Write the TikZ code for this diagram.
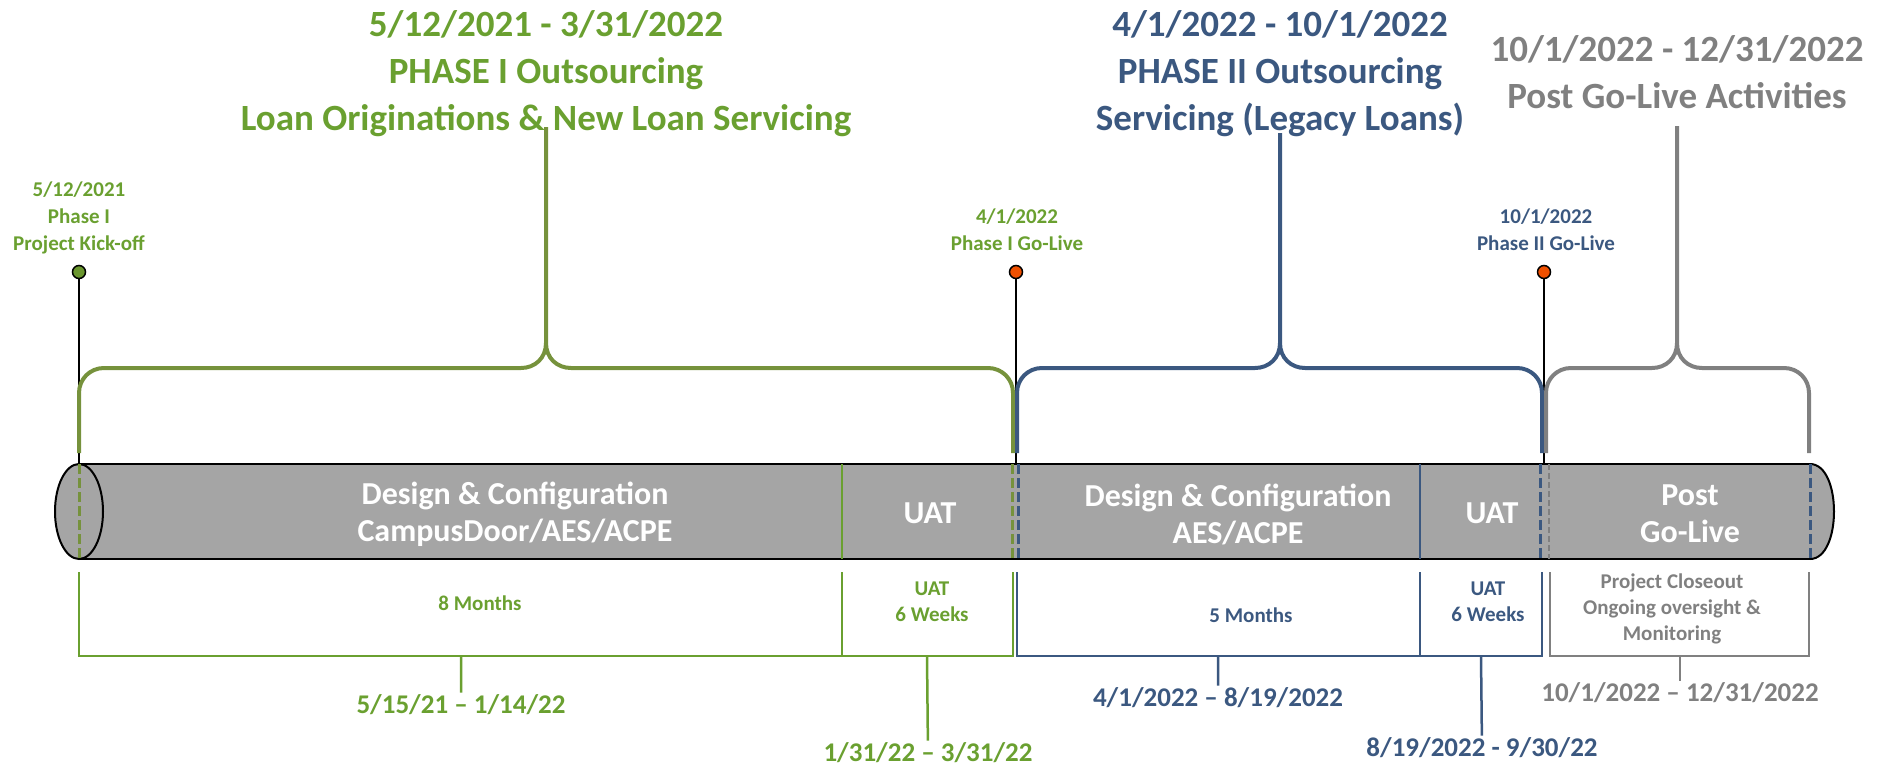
\documentclass[tikz,border=0pt]{standalone}
\usepackage{fontspec}
\setmainfont{Carlito}
\definecolor{pone}{RGB}{106,160,48}
\definecolor{ponel}{RGB}{118,146,60}
\definecolor{ptwo}{RGB}{59,88,128}
\definecolor{post}{RGB}{128,128,128}
\definecolor{tube}{RGB}{165,165,165}
\definecolor{golive}{RGB}{240,80,0}
\definecolor{kick}{RGB}{106,150,46}

\begin{document}
\begin{tikzpicture}[x=1pt,y=-1pt,
        ttl/.style = {font=\fontsize{37}{47}\selectfont\bfseries, align=center},
        mile/.style = {font=\fontsize{21}{27}\selectfont\bfseries, align=center},
        seg/.style = {text=white, font=\fontsize{32}{37}\selectfont\bfseries, align=center},
        dur/.style = {font=\fontsize{21}{26}\selectfont\bfseries, align=center},
        span/.style = {font=\fontsize{27}{32}\selectfont\bfseries, inner sep=2pt},
        dot/.style = {circle, draw=black, line width=1.5pt, minimum size=13pt, inner sep=0pt},
        brace/.style = {line width=4pt},
        box/.style = {line width=2.5pt}]
    \useasboundingbox (0,0) rectangle (1888,766);

    % titles
    \node[ttl, text=pone] (t1) at (546,74) {5/12/2021 - 3/31/2022\\PHASE I Outsourcing\\Loan Originations \& New Loan Servicing};
    \node[ttl, text=ptwo] (t2) at (1280,74) {4/1/2022 - 10/1/2022\\PHASE II Outsourcing\\Servicing (Legacy Loans)};
    \node[ttl, text=post] (t3) at (1677,72) {10/1/2022 - 12/31/2022\\Post Go-Live Activities};

    % tube
    \fill[tube] (79,464) rectangle (1810,559);
    \draw[line width=2.5pt] (79,464) -- (1810,464) (79,559) -- (1810,559);
    \draw[line width=2pt, fill=tube] (79,511.5) ellipse [x radius=24, y radius=47.5];
    \draw[line width=2pt, fill=tube] (1810,464) .. controls (1842,464) and (1842,559) .. (1810,559);
    \draw[ponel, line width=3pt, dash pattern=on 10pt off 4pt] (79,464) -- (79,559) (1012,464) -- (1012,559);
    \draw[ptwo, line width=3pt, dash pattern=on 10pt off 4pt] (1018,464) -- (1018,559) (1540,464) -- (1540,559) (1810,464) -- (1810,559);
    \draw[post, line width=2pt, dash pattern=on 6pt off 3pt] (1549,464) -- (1549,559);
    \draw[pone, line width=2pt] (842,464) -- (842,559);
    \draw[ptwo, line width=2pt] (1420,464) -- (1420,559);

    \node[seg] (s1) at (515,514) {Design \& Configuration\\CampusDoor/AES/ACPE};
    \node[seg] (s2) at (930,513) {UAT};
    \node[seg] (s3) at (1238,514) {Design \& Configuration\\AES/ACPE};
    \node[seg] (s4) at (1492,513) {UAT};
    \node[seg] (s5) at (1690,514) {Post\\Go-Live};

    % milestones
    \node[mile, text=pone] (m1) at (79,218) {5/12/2021\\Phase I\\Project Kick-off};
    \node[mile, text=pone] (m2) at (1017,230) {4/1/2022\\Phase I Go-Live};
    \node[mile, text=ptwo] (m3) at (1546,230) {10/1/2022\\Phase II Go-Live};
    \node[dot, fill=kick] (d1) at (79,272) {};
    \node[dot, fill=golive] (d2) at (1016,272) {};
    \node[dot, fill=golive] (d3) at (1544,272) {};
    \coordinate (a1) at (79,464);
    \coordinate (a2) at (1016,464);
    \coordinate (a3) at (1544,464);
    \draw[line width=1.5pt] (d1) -- (a1) (d2) -- (a2) (d3) -- (a3);

    % braces
    \foreach \l/\m/\r/\t/\c in {79/546/1013/127/ponel, 1017/1280/1542/133/ptwo, 1546/1677/1809/126/post}
        \draw[brace, draw=\c] (\l,453) -- (\l,393) .. controls (\l,379) and (\l+11,368) .. (\l+25,368)
            -- (\m-25,368) .. controls (\m-11,368) and (\m,358) .. (\m,343)
            .. controls (\m,358) and (\m+11,368) .. (\m+25,368) -- (\r-25,368)
            .. controls (\r-11,368) and (\r,379) .. (\r,393) -- (\r,453)
            (\m,343) -- (\m,\t);

    % durations
    \draw[box, pone] (79,572) -- (79,656) -- (1013,656) -- (1013,572) (842,572) -- (842,656);
    \draw[box, ptwo] (1017,572) -- (1017,656) -- (1542,656) -- (1542,572) (1420,572) -- (1420,656);
    \draw[box, post] (1550,572) -- (1550,656) -- (1809,656) -- (1809,572);
    \node[dur, text=pone] (g8m) at (480,603) {8 Months};
    \node[dur, text=pone] (guat) at (932,602) {UAT\\6 Weeks};
    \node[dur, text=ptwo] (b5m) at (1251,615) {5 Months};
    \node[dur, text=ptwo] (buat) at (1488,602) {UAT\\6 Weeks};
    \node[dur, text=post] (pcl) at (1672,609) {Project Closeout\\Ongoing oversight \&\\Monitoring};

    % date spans
    \node[span, text=pone] (g1d) at (461,705) {5/15/21 – 1/14/22};
    \node[span, text=pone] (g2d) at (928,753) {1/31/22 – 3/31/22};
    \node[span, text=ptwo] (b1d) at (1218,698) {4/1/2022 – 8/19/2022};
    \node[span, text=ptwo] (b2d) at (1482,748) {8/19/2022 - 9/30/22};
    \node[span, text=post] (p1d) at (1680,693) {10/1/2022 – 12/31/2022};
    \coordinate (g1) at (461,656);
    \coordinate (g2) at (927,656);
    \coordinate (b1) at (1218,656);
    \coordinate (b2) at (1481,656);
    \coordinate (p1) at (1680,656);
    \draw[box, pone] (g1) -- (g1d) (g2) -- (g2d);
    \draw[box, ptwo] (b1) -- (b1d) (b2) -- (b2d);
    \draw[box, post] (p1) -- (p1d);
\end{tikzpicture}
\end{document}
